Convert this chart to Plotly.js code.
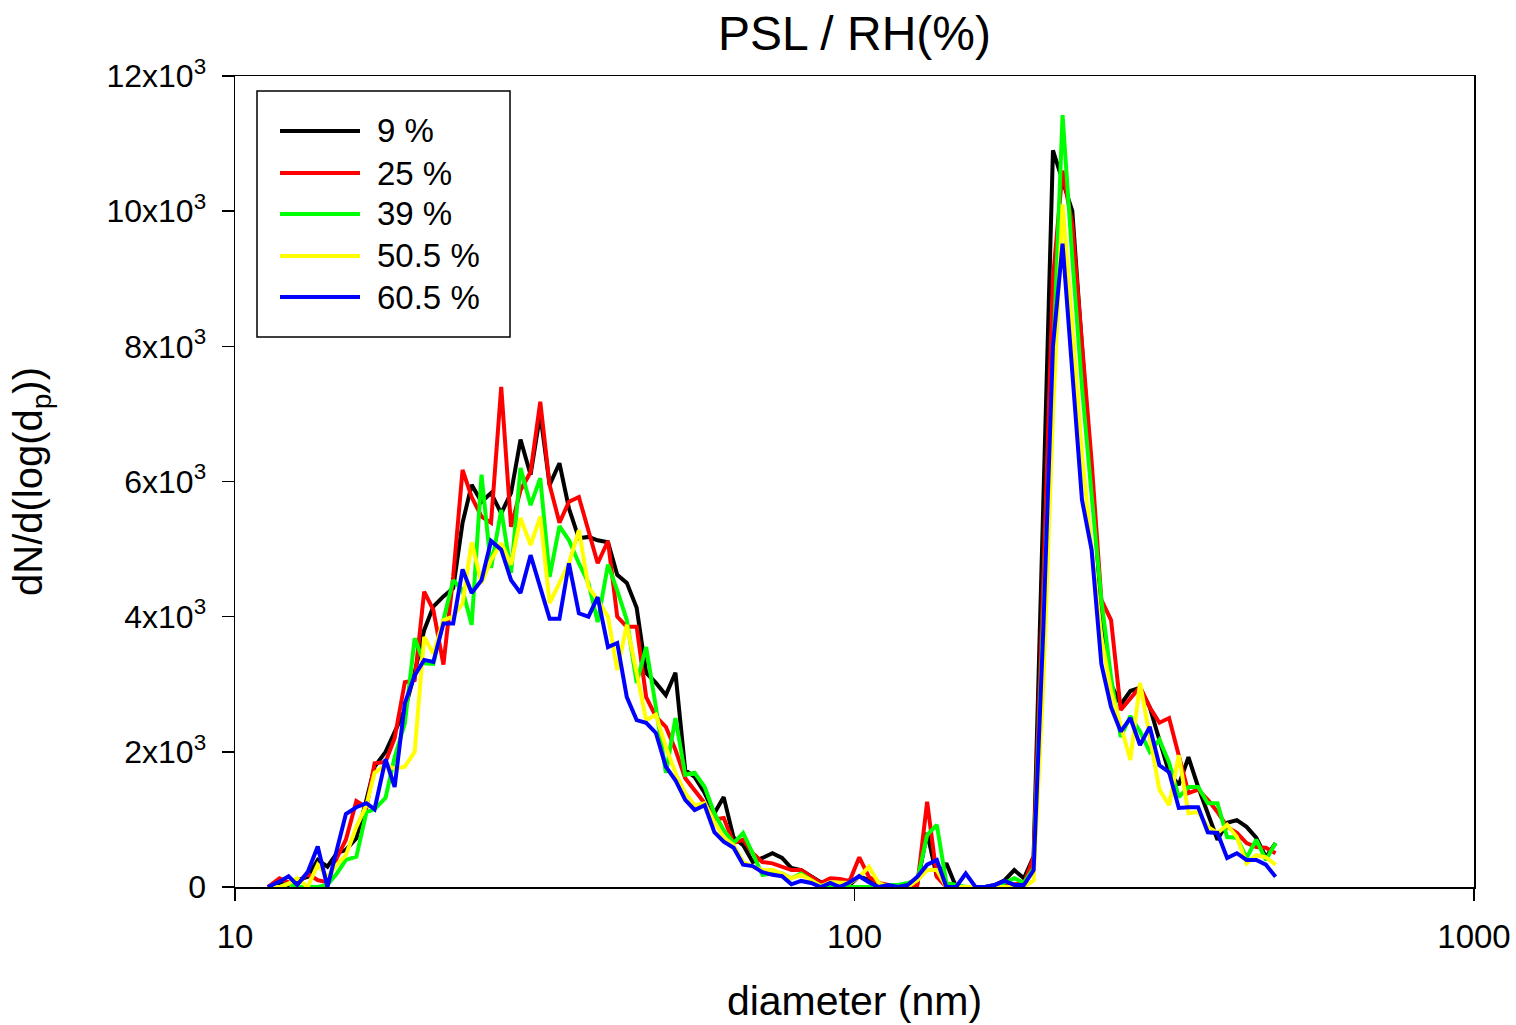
<!DOCTYPE html>
<html>
<head>
<meta charset="utf-8">
<script src="https://cdn.plot.ly/plotly-3.0.1.min.js"></script>
<style>
  html, body { margin: 0; padding: 0; background: #ffffff; }
  #chart { width: 1516px; height: 1025px; }
</style>
</head>
<body>
<div id="chart"></div>
<script>
// Particle diameter channels (nm), 64 channels per decade
const diameter = [
  11.3, 11.8, 12.2, 12.6, 13.1, 13.6, 14.1, 14.6, 15.1, 15.7,
  16.3, 16.8, 17.5, 18.1, 18.8, 19.5, 20.2, 20.9, 21.7, 22.5,
  23.3, 24.1, 25.0, 25.9, 26.9, 27.9, 28.9, 30.0, 31.1, 32.2,
  33.4, 34.6, 35.9, 37.2, 38.5, 40.0, 41.4, 42.9, 44.5, 46.1,
  47.8, 49.6, 51.4, 53.3, 55.2, 57.3, 59.4, 61.5, 63.8, 66.1,
  68.5, 71.0, 73.7, 76.4, 79.1, 82.0, 85.1, 88.2, 91.4, 94.7,
  98.2, 101.8, 105.5, 109.4, 113.4, 117.6, 121.9, 126.3, 131.0, 135.8,
  140.7, 145.9, 151.2, 156.8, 162.5, 168.5, 174.7, 181.1, 187.7, 194.6,
  201.7, 209.1, 216.7, 224.7, 232.9, 241.4, 250.3, 259.5, 269.0, 278.8,
  289.0, 299.6, 310.6, 322.0, 333.8, 346.0, 358.7, 371.8, 385.4, 399.5,
  414.2, 429.4, 445.1, 461.4, 478.3
];

const rh9 = [
  0, 50, 30, 100, 150, 400, 300, 500, 550, 720,
  1290, 1780, 2000, 2300, 2620, 3170, 3800, 4150, 4300, 4420,
  5390, 5950, 5700, 5830, 5530, 5830, 6620, 6100, 7000, 5950,
  6270, 5600, 5160, 5180, 5130, 5100, 4620, 4500, 4130, 3170,
  3020, 2840, 3170, 1730, 1630, 1390, 1090, 1330, 730, 620,
  370, 430, 500, 430, 280, 250, 150, 70, 50, 30,
  30, 160, 100, 30, 0, 0, 20, 50, 800, 150,
  350, 0, 0, 0, 0, 30, 100, 250, 130, 450,
  5500, 10900, 10450, 10000, 8000, 6000, 4100, 3000, 2700, 2900,
  2950, 2660, 2180, 1690, 1510, 1920, 1480, 1090, 700, 950,
  990, 890, 730, 440, 650
];

const rh25 = [
  0, 130, 70, 40, 200, 100, 70, 430, 700, 1270,
  1180, 1830, 1850, 2200, 3030, 3060, 4370, 4100, 3290, 4590,
  6170, 5770, 5480, 5390, 7400, 5330, 5870, 6140, 7180, 5950,
  5390, 5700, 5770, 5280, 4790, 5120, 4000, 3850, 3850, 2810,
  2520, 2370, 2030, 1610, 1440, 1240, 1000, 1020, 650, 700,
  500, 370, 350, 300, 250, 250, 160, 60, 130, 120,
  90, 440, 150, 60, 30, 15, 0, 30, 1260, 150,
  0, 0, 0, 0, 0, 20, 30, 30, 50, 440,
  4500, 9000, 10600, 9800, 8100, 6300, 4250, 3950, 2620, 2800,
  2960, 2660, 2430, 2500, 1950, 1390, 1440, 1290, 1110, 890,
  800, 650, 590, 580, 500
];

const rh39 = [
  0, 0, 50, 0, 0, 0, 30, 200, 400, 450,
  1110, 1150, 1320, 1920, 2420, 3680, 3310, 3300, 3950, 4540,
  4390, 3880, 6100, 4720, 5580, 4650, 6200, 5650, 6050, 4590,
  5340, 5130, 4790, 4500, 3920, 4770, 4390, 3950, 3020, 3550,
  2660, 1690, 2500, 1660, 1690, 1480, 1090, 840, 650, 800,
  500, 180, 200, 200, 130, 200, 100, 15, 30, 0,
  0, 0, 0, 0, 30, 30, 60, 100, 770, 920,
  60, 30, 0, 0, 0, 20, 60, 130, 60, 280,
  4000, 8000, 11420, 9300, 7400, 5800, 4250, 3100, 2220, 2530,
  2300, 2000, 2180, 1840, 1330, 1480, 1480, 1240, 1240, 740,
  730, 430, 700, 400, 650
];

const rh50_5 = [
  0, 0, 50, 130, 0, 330, 150, 330, 470, 890,
  1210, 1690, 1800, 1750, 1780, 2000, 3700, 3450, 3950, 4000,
  4200, 5100, 4500, 4840, 5090, 4770, 5460, 5060, 5480, 4200,
  4500, 4790, 5280, 4440, 4250, 4000, 3210, 3880, 3170, 2470,
  2550, 2070, 1690, 1390, 1210, 1240, 960, 730, 620, 370,
  300, 250, 250, 200, 130, 180, 100, 15, 70, 60,
  60, 150, 300, 60, 0, 0, 0, 100, 250, 250,
  0, 0, 0, 0, 0, 0, 0, 0, 0, 100,
  3000, 7000, 10100, 8300, 6400, 5000, 3700, 2900, 2400, 1880,
  3020, 2200, 1440, 1210, 1950, 1090, 1110, 890, 800, 920,
  740, 350, 470, 440, 330
];

const rh60_5 = [
  0, 80, 160, 30, 220, 600, 0, 550, 1080, 1180,
  1240, 1150, 1890, 1480, 2720, 3130, 3360, 3330, 3900, 3900,
  4700, 4350, 4540, 5120, 4990, 4540, 4350, 4910, 4440, 3970,
  3970, 4790, 4050, 4000, 4290, 3550, 3610, 2810, 2470, 2430,
  2280, 1780, 1580, 1290, 1140, 1210, 810, 670, 580, 330,
  310, 220, 180, 160, 40, 90, 60, 0, 60, 0,
  70, 160, 70, 0, 30, 0, 30, 150, 330, 400,
  0, 0, 200, 0, 0, 30, 90, 30, 30, 250,
  3800, 8000, 9520, 7600, 5730, 4990, 3300, 2660, 2300, 2500,
  2100, 2370, 1800, 1700, 1170, 1180, 1180, 810, 800, 430,
  500, 400, 400, 330, 150
];

const seriesNames = ['9 %', '25 %', '39 %', '50.5 %', '60.5 %'];
const seriesValues = [rh9, rh25, rh39, rh50_5, rh60_5];
const seriesColors = ['#000000', '#ff0000', '#00ff00', '#ffff00', '#0000ff'];

const yTickVals = [0, 2000, 4000, 6000, 8000, 10000, 12000];
const yTickText = ['0', '2x10<sup>3</sup>', '4x10<sup>3</sup>', '6x10<sup>3</sup>',
                   '8x10<sup>3</sup>', '10x10<sup>3</sup>', '12x10<sup>3</sup>'];
const xTickVals = [10, 100, 1000];
const xTickText = ['10', '100', '1000'];

const FONT = 'Arial, "Liberation Sans", Helvetica, sans-serif';

const traces = seriesNames.map((name, k) => ({
  type: 'scatter',
  mode: 'lines',
  name: name,
  x: diameter,
  y: seriesValues[k],
  line: { color: seriesColors[k], width: 4 },
  showlegend: false,
  hoverinfo: 'x+y+name'
}));

// Custom legend box (paper coordinates) to reproduce the long line samples
const plotL = 235, plotR = 1474, plotT = 76, plotB = 887;
const W = plotR - plotL, H = plotB - plotT;
const px = (x) => (x - plotL) / W;
const py = (y) => (plotB - y) / H;

const shapes = [{
  type: 'rect', xref: 'paper', yref: 'paper',
  x0: px(257), x1: px(510), y0: py(337), y1: py(91),
  line: { color: '#000000', width: 1.5 }, fillcolor: 'rgba(0,0,0,0)', layer: 'above'
}];
const annotations = [];
const legendRows = [131, 173, 214, 256, 297];
seriesNames.forEach((name, k) => {
  shapes.push({
    type: 'line', xref: 'paper', yref: 'paper',
    x0: px(280), x1: px(360), y0: py(legendRows[k]), y1: py(legendRows[k]),
    line: { color: seriesColors[k], width: 4 }, layer: 'above'
  });
  annotations.push({
    xref: 'paper', yref: 'paper', x: px(375), y: py(legendRows[k]),
    xanchor: 'left', yanchor: 'middle', showarrow: false,
    text: name, font: { family: FONT, size: 33, color: '#000000' }
  });
});

const layout = {
  width: 1516,
  height: 1025,
  paper_bgcolor: '#ffffff',
  plot_bgcolor: '#ffffff',
  margin: { l: plotL, r: 1516 - plotR, t: plotT, b: 1025 - plotB, pad: 0 },
  font: { family: FONT, color: '#000000' },
  title: {
    text: 'PSL / RH(%)',
    font: { family: FONT, size: 48, color: '#000000' },
    x: 0.5, xanchor: 'center', xref: 'paper',
    y: 1 - 33 / 1025, yanchor: 'middle', yref: 'container'
  },
  xaxis: {
    type: 'log',
    range: [1, 3],
    tickmode: 'array',
    tickvals: xTickVals,
    ticktext: xTickText,
    ticks: 'outside',
    ticklen: 12,
    tickwidth: 1.5,
    tickcolor: '#000000',
    showline: true,
    linecolor: '#000000',
    linewidth: 1.5,
    mirror: true,
    showgrid: false,
    zeroline: false,
    ticklabelstandoff: 8,
    tickfont: { family: FONT, size: 33, color: '#000000' },
    title: {
      text: 'diameter (nm)',
      font: { family: FONT, size: 41, color: '#000000' },
      standoff: 32
    },
    automargin: false
  },
  yaxis: {
    range: [0, 12000],
    tickmode: 'array',
    tickvals: yTickVals,
    ticktext: yTickText,
    ticks: 'outside',
    ticklen: 12,
    tickwidth: 1.5,
    tickcolor: '#000000',
    showline: true,
    linecolor: '#000000',
    linewidth: 1.5,
    mirror: true,
    showgrid: false,
    zeroline: false,
    ticklabelstandoff: 9,
    tickfont: { family: FONT, size: 32, color: '#000000' },
    title: {
      text: 'dN/d(log(d<sub>p</sub>))',
      font: { family: FONT, size: 40, color: '#000000' },
      standoff: 51
    },
    automargin: false
  },
  shapes: shapes,
  annotations: annotations,
  showlegend: false
};

Plotly.newPlot('chart', traces, layout, { displayModeBar: false, responsive: false, staticPlot: true });
</script>
</body>
</html>
